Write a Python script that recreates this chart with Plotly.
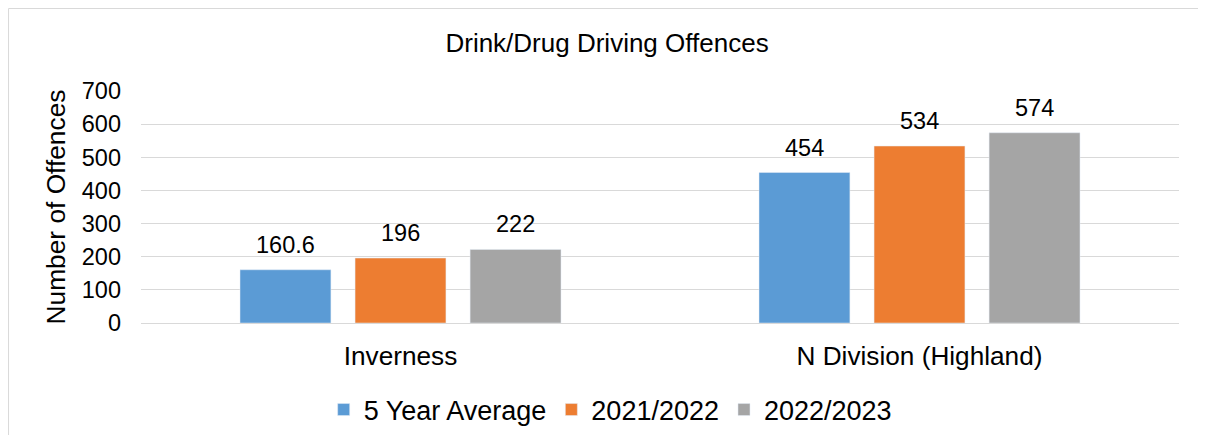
import plotly.graph_objects as go

categories = ["Inverness", "N Division (Highland)"]
series_names = ["5 Year Average", "2021/2022", "2022/2023"]
avg_5yr = [160.6, 454]
y2021_22 = [196, 534]
y2022_23 = [222, 574]
label_text = [["160.6", "454"], ["196", "534"], ["222", "574"]]
y_ticks = [0, 100, 200, 300, 400, 500, 600, 700]

colors = ["#5B9BD5", "#ED7D31", "#A5A5A5"]
FONT = "Liberation Sans, Arial, sans-serif"

series = [avg_5yr, y2021_22, y2022_23]

fig = go.Figure()
for name, vals, col in zip(series_names, series, colors):
    fig.add_trace(go.Bar(x=categories, y=vals, name=name, marker_color=col,
                         hoverinfo="skip"))

slot_px = 115
annotations = []
for i, (vals, txts) in enumerate(zip(series, label_text)):
    for c, v, t in zip(categories, vals, txts):
        annotations.append(dict(x=c, y=v, xref="x", yref="y", text=t,
                                showarrow=False, xshift=(i - 1) * slot_px,
                                yshift=25, yanchor="middle",
                                font=dict(family=FONT, size=23.5, color="#000000")))

fig.update_layout(
    width=1190, height=427,
    margin=dict(l=133, r=19, t=83, b=112, autoexpand=False),
    paper_bgcolor="white", plot_bgcolor="white",
    barmode="group", bargap=0.335, bargroupgap=0.21,
    font=dict(family=FONT, color="#000000"),
    title=dict(text="Drink/Drug Driving Offences", x=0.449, xref="paper",
               xanchor="center", y=1 - 35 / 427, yanchor="middle",
               font=dict(family=FONT, size=26, color="#000000")),
    showlegend=True,
    legend=dict(orientation="h", x=0.452, xanchor="center", y=-0.375,
                yanchor="middle", font=dict(family=FONT, size=27),
                traceorder="normal"),
    annotations=annotations,
    shapes=[dict(type="rect", xref="paper", yref="paper",
                 x0=-0.1276, x1=1.05, y0=-0.6, y1=1.3556,
                 line=dict(color="#D9D9D9", width=1), fillcolor="rgba(0,0,0,0)",
                 layer="below")],
)

fig.update_yaxes(range=[0, 700], tickvals=y_ticks, showgrid=True,
                 gridcolor="#D9D9D9", gridwidth=1, zeroline=False,
                 showline=False, ticks="", ticklabelstandoff=19,
                 tickfont=dict(family=FONT, size=23.5),
                 title=dict(text="Number of Offences", standoff=8,
                            font=dict(family=FONT, size=26.3)))
fig.update_xaxes(showline=True, linecolor="#D9D9D9", linewidth=1, ticks="",
                 ticklabelstandoff=10,
                 tickfont=dict(family=FONT, size=26.2))

fig.write_html("out.html")
